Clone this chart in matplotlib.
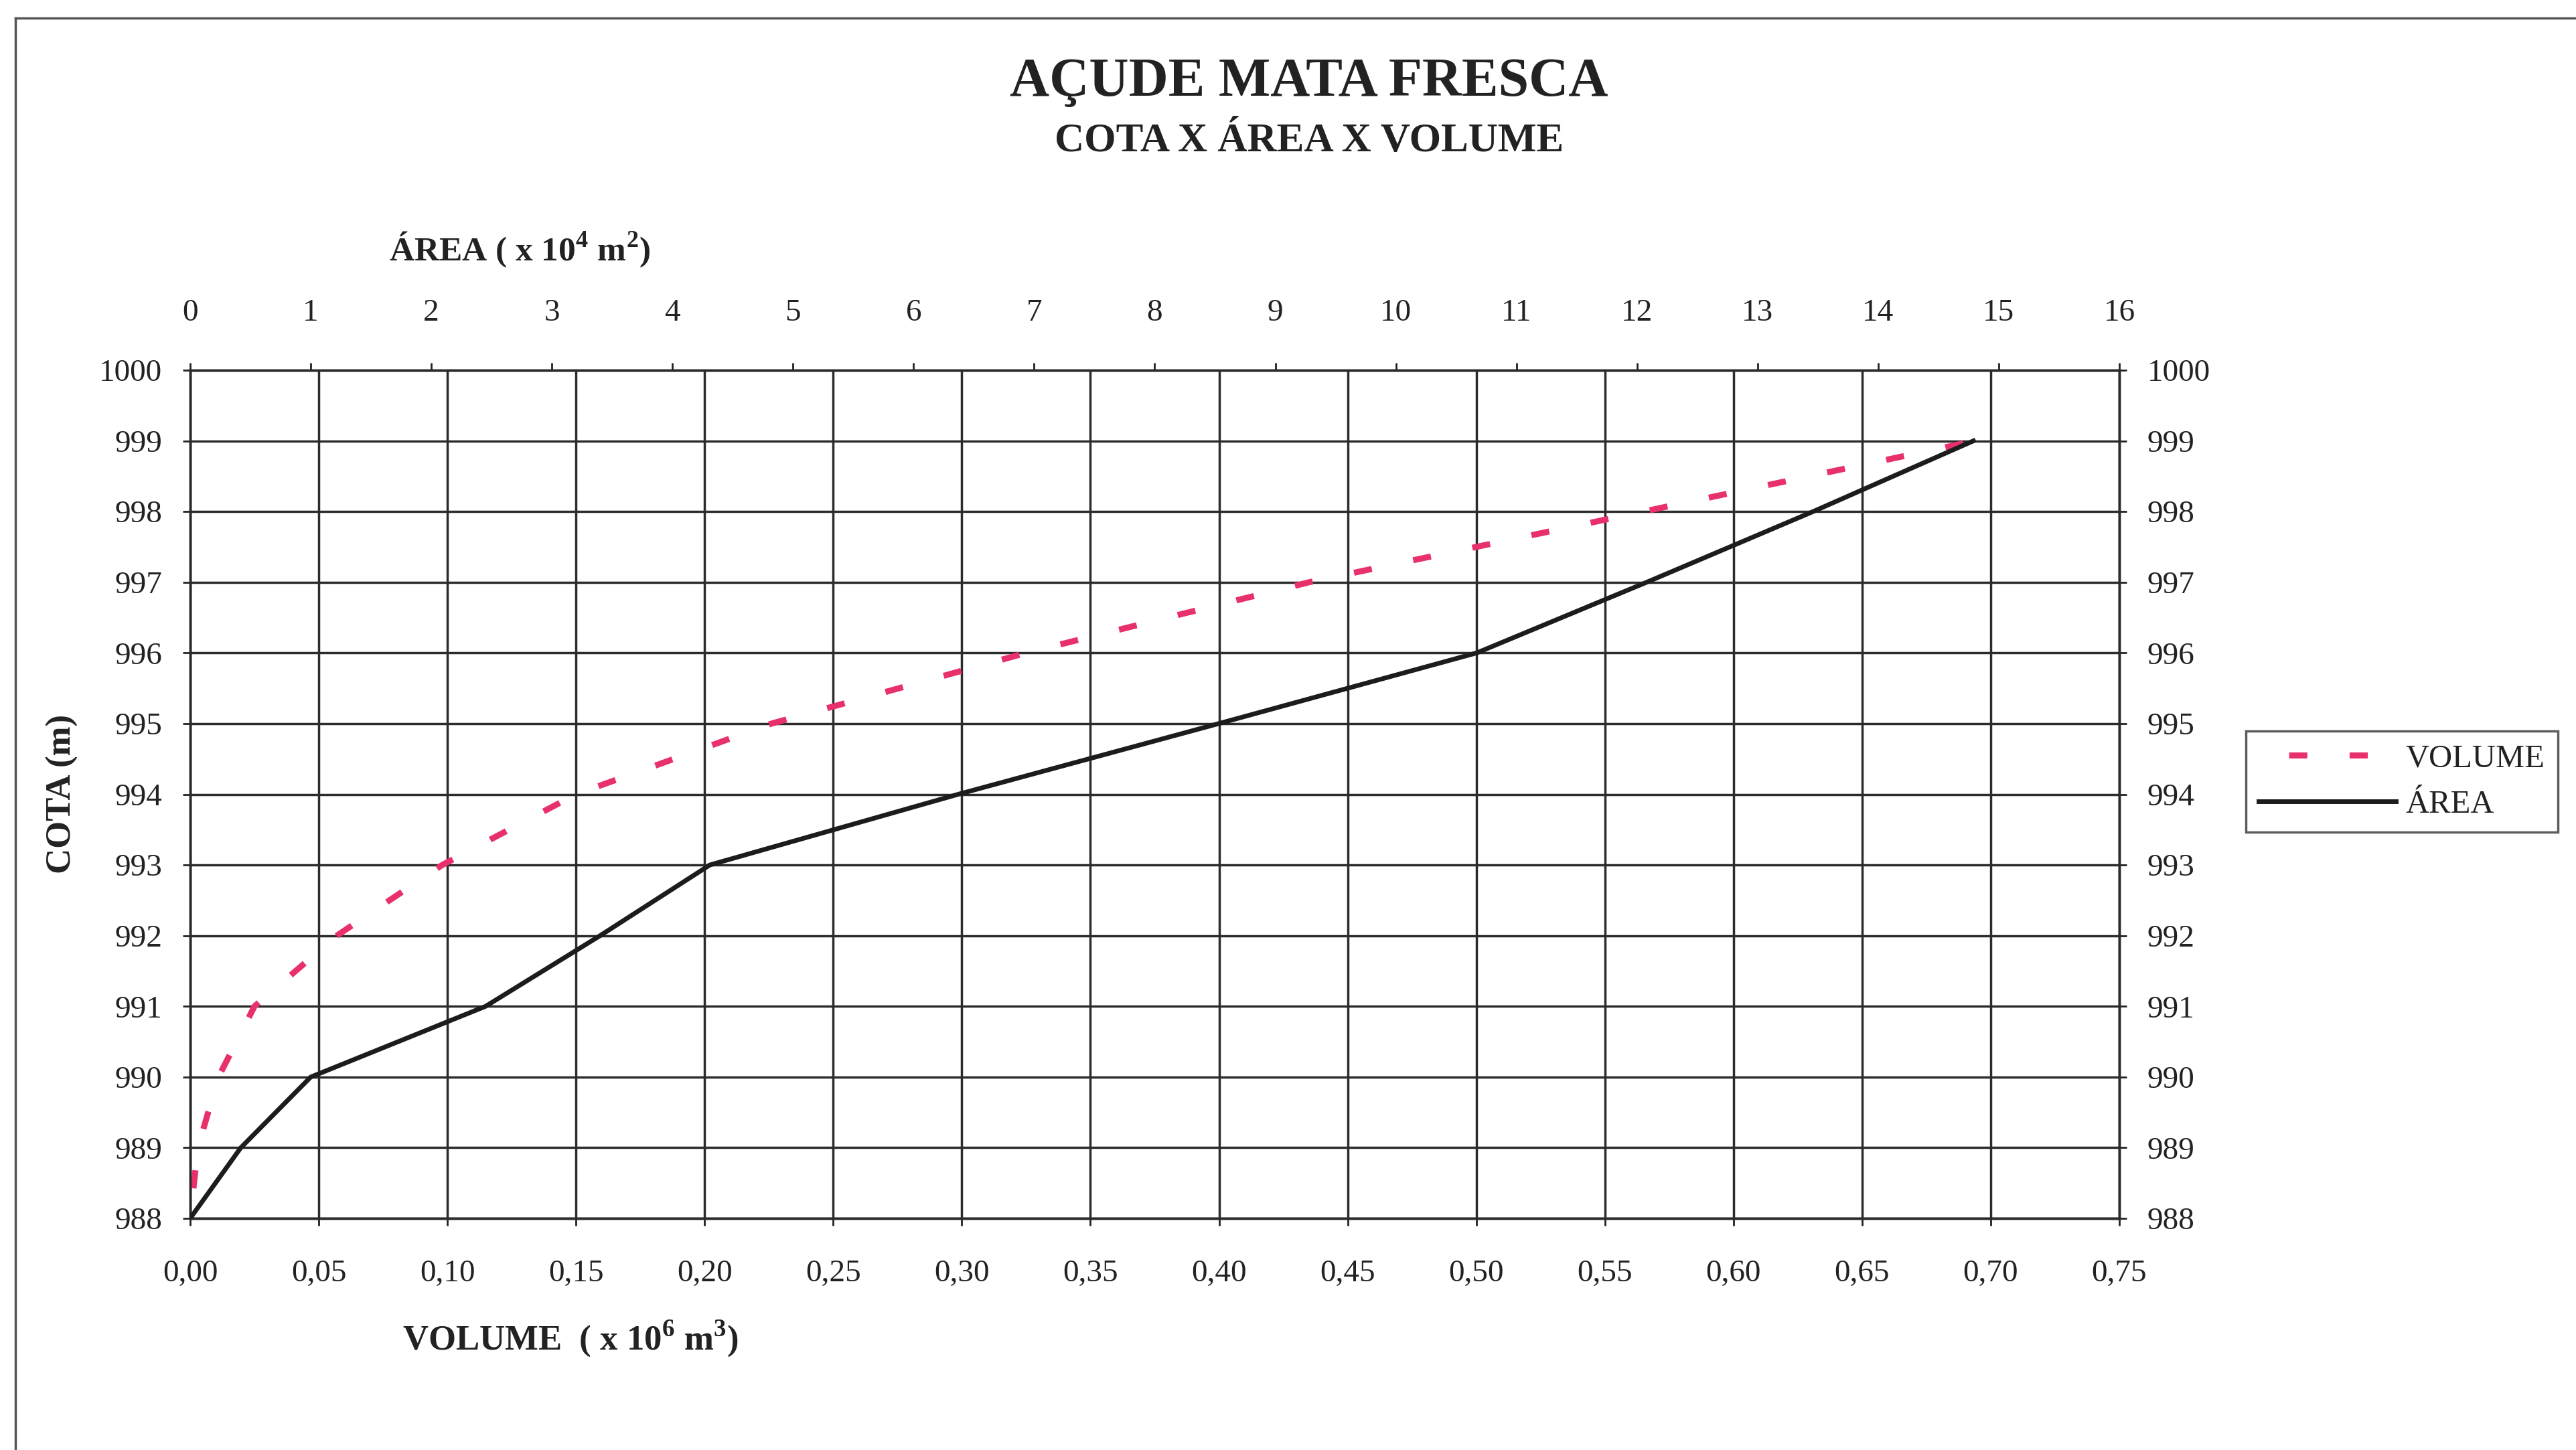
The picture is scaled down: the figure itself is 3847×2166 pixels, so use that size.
import matplotlib.pyplot as plt
from matplotlib.lines import Line2D

plt.rcParams['font.family'] = ['Liberation Serif', 'DejaVu Serif']
plt.rcParams['mathtext.fontset'] = 'custom'
plt.rcParams['mathtext.rm'] = 'Liberation Serif'
plt.rcParams['mathtext.bf'] = 'Liberation Serif:bold'

# dados
cota = [988, 989, 990, 991, 992, 993, 994, 995, 996, 997, 998, 999]
volume = [0.000, 0.003, 0.011, 0.025, 0.057, 0.098, 0.150, 0.226, 0.325, 0.435, 0.565, 0.694]
area = [0.0, 0.42, 1.00, 2.45, 3.40, 4.31, 6.37, 8.53, 10.67, 12.08, 13.46, 14.79]

vol_ticks = [i * 0.05 for i in range(16)]
vol_labels = ['0,00', '0,05', '0,10', '0,15', '0,20', '0,25', '0,30', '0,35',
              '0,40', '0,45', '0,50', '0,55', '0,60', '0,65', '0,70', '0,75']
area_ticks = list(range(0, 17))
cota_ticks = list(range(988, 1001))

W, H = 3847, 2166
fig = plt.figure(figsize=(W / 100, H / 100), dpi=100)
fig.patch.set_facecolor('white')

# moldura externa (digitalizacao)
fig.add_artist(Line2D([23 / W, 23 / W], [0, 1 - 27 / H], color='#555555', lw=2.5))
fig.add_artist(Line2D([23 / W, 1], [1 - 27 / H, 1 - 27 / H], color='#555555', lw=2.5))

ax = fig.add_axes([284 / W, 1 - 1820 / H, (3165 - 284) / W, (1820 - 553) / H])
ax2 = ax.twiny()

grid_col = '#2b2b2b'
l1, = ax.plot(volume, cota, color='#e8306a', lw=6.5, linestyle=(5, (3, 7)),
              solid_capstyle='butt', label='VOLUME', zorder=3)
l2, = ax2.plot(area, cota, color='#1c1c1c', lw=5, label='ÁREA', zorder=3)

ax.set_xlim(0, 0.75)
ax.set_ylim(988, 1000)
ax2.set_xlim(0, 16)

ax.set_xticks(vol_ticks)
ax.set_xticklabels(vol_labels)
ax.set_yticks(cota_ticks)
ax.set_yticklabels([str(c) for c in cota_ticks])
ax2.set_xticks(area_ticks)
ax2.set_xticklabels([str(a) for a in area_ticks])

ax.grid(True, color=grid_col, lw=2.5)
ax.set_axisbelow(True)

for a in (ax, ax2):
    for s in a.spines.values():
        s.set_linewidth(2.5)
        s.set_color(grid_col)

ax.tick_params(axis='x', direction='out', length=8, width=2, pad=36, labelsize=34, colors='#222222')
ax.tick_params(axis='y', direction='out', length=8, width=2, pad=22, labelsize=34,
               right=True, labelright=True, colors='#222222')
ax2.tick_params(axis='x', direction='out', length=8, width=2, pad=38, labelsize=34, colors='#222222')

# titulos e rotulos dos eixos
fig.text(1955 / W, 1 - 123 / H, 'AÇUDE MATA FRESCA', ha='center', va='center',
         fontsize=59, fontweight='bold', color='#222222')
fig.text(1955 / W, 1 - 211 / H, 'COTA X ÁREA X VOLUME', ha='center', va='center',
         fontsize=44, fontweight='bold', color='#222222')
fig.text(581 / W, 1 - 373 / H, r'ÁREA ( x 10$^\mathbf{4}$ m$^\mathbf{2}$)', ha='left', va='center',
         fontsize=37, fontweight='bold', color='#222222')
fig.text(601 / W, 1 - 2000 / H, r'VOLUME  ( x 10$^\mathbf{6}$ m$^\mathbf{3}$)', ha='left', va='center',
         fontsize=38, fontweight='bold', color='#222222')
fig.text(93 / W, 1 - 1186 / H, 'COTA (m)', ha='center', va='center', rotation=90,
         fontsize=38, fontweight='bold', color='#222222')

leg = fig.legend([l1, l2], ['VOLUME', 'ÁREA'], loc='upper left',
                 bbox_to_anchor=(3354 / W, 1 - 1092 / H), frameon=True, fancybox=False,
                 edgecolor='#333333', fontsize=35, handlelength=4.2, handletextpad=0.3,
                 borderpad=0.4, labelspacing=0.5, borderaxespad=0)
leg.get_frame().set_linewidth(2.5)
for t in leg.get_texts():
    t.set_color('#222222')

fig.savefig('out.png', dpi=100, facecolor='white')
